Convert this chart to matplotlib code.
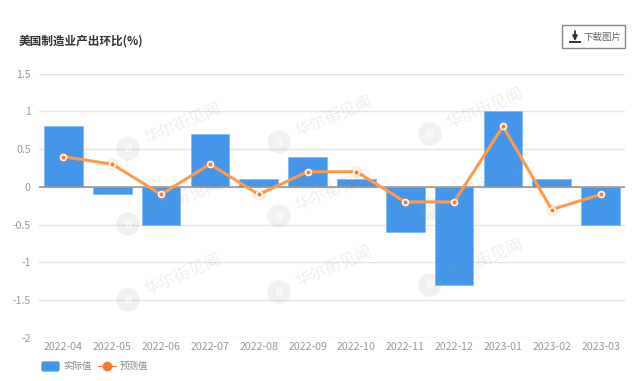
import matplotlib
matplotlib.use('Agg')
import matplotlib.pyplot as plt
from matplotlib.patches import Circle, FancyBboxPatch, Rectangle
from matplotlib.lines import Line2D

plt.rcParams['font.family'] = ['Noto Sans CJK SC', 'DejaVu Sans']

months = ['2022-04', '2022-05', '2022-06', '2022-07', '2022-08', '2022-09',
          '2022-10', '2022-11', '2022-12', '2023-01', '2023-02', '2023-03']
actual = [0.8, -0.1, -0.5, 0.7, 0.1, 0.4, 0.1, -0.6, -1.3, 1.0, 0.1, -0.5]
forecast = [0.4, 0.3, -0.1, 0.3, -0.1, 0.2, 0.2, -0.2, -0.2, 0.8, -0.3, -0.1]
y_ticks = [-2, -1.5, -1, -0.5, 0, 0.5, 1, 1.5]
y_labels = ['-2', '-1.5', '-1', '-0.5', '0', '0.5', '1', '1.5']
# watermark circle centres in pixels
marks = [(128, 149), (279, 142), (430, 134),
         (128, 224), (279, 216), (430, 209),
         (128, 300), (279, 292), (430, 285)]

W, H = 640, 381
BAR = '#4496ea'
LINE = '#ff9a4d'
DOT = '#ff7a30'

fig = plt.figure(figsize=(W / 100, H / 100), dpi=100, facecolor='white')
ax = fig.add_axes([39 / W, 1 - 338 / H, 586 / W, (338 - 73.5) / H])
x = list(range(len(months)))

ax.set_xlim(-0.5, 11.5)
ax.set_ylim(-2, 1.5)
ax.bar(x, actual, width=0.79, color=BAR, edgecolor='#7db8f2', linewidth=0.5, zorder=2)
ax.axhline(0, color='#999999', lw=1.2, zorder=3)
ax.plot(x, forecast, color=LINE, lw=2.2, zorder=4, solid_joinstyle='round')
# halo behind the dots, then the dot with its pale ring
ax.plot(x, forecast, ls='none', marker='o', ms=9, mfc=DOT, mec='none', alpha=0.12, zorder=4)
ax.plot(x, forecast, ls='none', marker='o', ms=4.2, mfc=DOT, mec='#fff6ee', mew=1.3, zorder=5)

ax.set_yticks(y_ticks, y_labels)
ax.set_xticks(x, months)
ax.tick_params(axis='both', length=0, labelsize=7.6, labelcolor='#999999')
ax.tick_params(axis='x', pad=3)
ax.tick_params(axis='y', pad=6)
ax.grid(axis='y', color='#e4e4e4', lw=1, zorder=0)
ax.set_axisbelow(True)
for s in ax.spines.values():
    s.set_visible(False)

# everything below is placed in pixel coords, y down
ov = fig.add_axes([0, 0, 1, 1], facecolor='none')
ov.set_xlim(0, W)
ov.set_ylim(H, 0)
ov.axis('off')

for mx, my in marks:
    ov.add_patch(Circle((mx, my), 11.7, color='#999999', alpha=0.13, lw=0))
    ov.text(mx, my, '₩', color='white', fontsize=9, ha='center', va='center', alpha=0.85)
    ov.text(mx + 55, my - 25, '华尔街见闻', color='#999999', alpha=0.16, fontsize=11.8,
            rotation=23, ha='center', va='center', rotation_mode='anchor')

ov.text(19, 41, '美国制造业产出环比(%)', fontsize=8.4, fontweight='bold', color='#333333',
        ha='left', va='center')

# download button
ov.add_patch(Rectangle((562, 25), 63, 23, fc='white', ec='#888888', lw=1))
ov.plot([570, 580], [42, 42], color='#333333', lw=1.4)
ov.annotate('', xy=(575, 41), xytext=(575, 31),
            arrowprops=dict(arrowstyle='-|>', color='#333333', lw=1.3, mutation_scale=7, shrinkA=0, shrinkB=0))
ov.text(583, 37, '下载图片', fontsize=6.8, color='#666666', ha='left', va='center')

# legend
ov.add_patch(FancyBboxPatch((41.5, 361.5), 18, 10, boxstyle='round,pad=0,rounding_size=2',
                            fc=BAR, ec='#7db8f2', lw=0.5))
ov.text(63, 366, '实际值', fontsize=6.8, color='#888888', ha='left', va='center')
ov.add_line(Line2D([98, 116], [366, 366], color=DOT, lw=0.8))
ov.plot([107], [366], marker='o', ms=6, mfc=DOT, mec=DOT, ls='none')
ov.text(120, 366, '预测值', fontsize=6.8, color='#888888', ha='left', va='center')

fig.savefig('out.png', dpi=100)
